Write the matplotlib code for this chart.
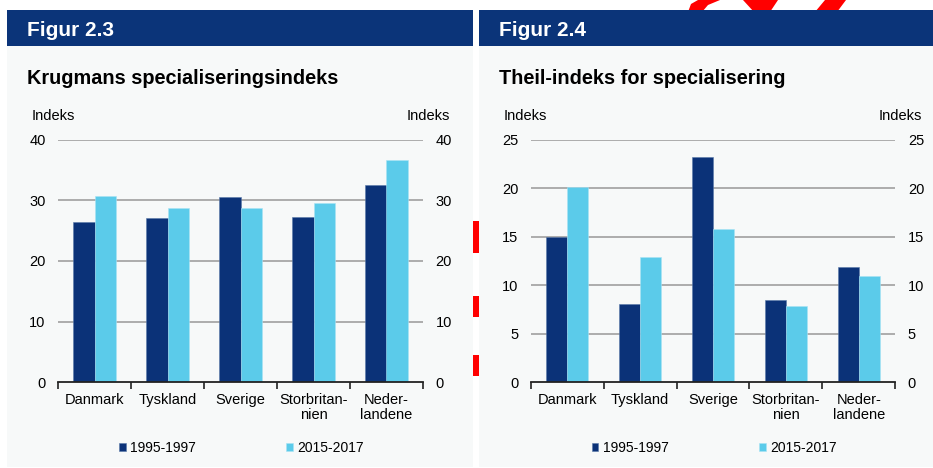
import matplotlib
matplotlib.use("Agg")
import matplotlib.pyplot as plt
import numpy as np
from matplotlib.patches import Rectangle, Polygon

plt.rcParams['font.family'] = ['Liberation Sans', 'DejaVu Sans']

# Data
countries = ["Danmark", "Tyskland", "Sverige", "Storbritan-\nnien", "Neder-\nlandene"]
periods = ["1995-1997", "2015-2017"]
krugman_9597 = [26.4, 27.1, 30.6, 27.2, 32.5]
krugman_1517 = [30.8, 28.7, 28.7, 29.6, 36.7]
theil_9597 = [15.0, 8.1, 23.2, 8.5, 11.9]
theil_1517 = [20.1, 12.9, 15.8, 7.9, 10.9]

DARK = "#0B3278"
LIGHT = "#5BCBEA"
HEADER = "#0B3479"
PANEL = "#F7F9F9"

W, H = 933, 468
fig = plt.figure(figsize=(W / 100, H / 100), dpi=100)
fig.patch.set_facecolor("white")


def px(x, y):
    # pixel position (from top-left) to figure fraction
    return x / W, 1 - y / H


def rect_px(x0, y0, x1, y1, **kw):
    fx0, fy1 = px(x0, y1)
    r = Rectangle((fx0, fy1), (x1 - x0) / W, (y1 - y0) / H,
                  transform=fig.transFigure, **kw)
    fig.patches.append(r)
    return r


def poly_px(points, **kw):
    p = Polygon([px(x, y) for x, y in points], closed=True,
                transform=fig.transFigure, **kw)
    fig.patches.append(p)


# red logo fragments showing behind the panels
for (x0, y0, x1, y1) in [(473, 221, 479, 253), (473, 296, 479, 317), (473, 355, 479, 376)]:
    rect_px(x0, y0, x1, y1, facecolor="red", edgecolor="none", zorder=-3)
poly_px([(688, 12), (691, 4), (698, 0), (720, 0), (708, 5), (702, 12)],
        facecolor="red", edgecolor="none", zorder=-3)
poly_px([(743, 0), (778, 0), (770, 12), (754, 12)],
        facecolor="red", edgecolor="none", zorder=-3)
poly_px([(825, 0), (846, 0), (837, 12), (815, 12)],
        facecolor="red", edgecolor="none", zorder=-3)

# panel backgrounds and header bands
panels = [(7, 473), (479, 933)]
for x0, x1 in panels:
    rect_px(x0, 10, x1, 467, facecolor=PANEL, edgecolor="none", zorder=-2)
    rect_px(x0, 10, x1, 46, facecolor=HEADER, edgecolor="none", zorder=-1)


def make_panel(x0, x1, ymax, step, v1, v2, fig_label, title, text_x):
    left, bottom = px(x0, 382)
    ax = fig.add_axes([left, bottom, (x1 - x0) / W, 242 / H])
    ax.set_facecolor("none")
    x = np.arange(len(countries))
    w = 0.29
    b1 = ax.bar(x - w / 2, v1, w, color=DARK, edgecolor="#5A79A8", linewidth=0.4, zorder=3, label=periods[0])
    b2 = ax.bar(x + w / 2, v2, w, color=LIGHT, edgecolor="#A9E3F4", linewidth=0.4, zorder=3, label=periods[1])
    ax.set_xlim(-0.5, len(countries) - 0.5)
    ax.set_ylim(0, ymax)
    ax.set_yticks(np.arange(0, ymax + 0.1, step))
    for yv in np.arange(step, ymax + 0.1, step):
        ax.axhline(yv, color="#A0A0A0", lw=1.2, zorder=1)
    for s in ["top", "left", "right"]:
        ax.spines[s].set_visible(False)
    ax.spines["bottom"].set_color("#222222")
    ax.spines["bottom"].set_linewidth(1.3)
    ax.spines["bottom"].set_zorder(4)
    ax.set_xticks(x)
    ax.set_xticklabels(countries, fontsize=10.5, linespacing=1.1)
    ax.set_xticks(np.arange(-0.5, len(countries), 1), minor=True)
    ax.tick_params(axis="x", which="major", length=0, pad=8)
    ax.tick_params(axis="x", which="minor", length=5, width=1.2, color="#222222", direction="out")
    ax.tick_params(axis="y", length=0, pad=9, labelsize=10.5, labelleft=True, labelright=True)

    fx, fy = px(text_x, 36)
    fig.text(fx, fy, fig_label, color="white", fontsize=15, fontweight="bold", va="baseline")
    fx, fy = px(text_x, 83.5)
    fig.text(fx, fy, title, color="black", fontsize=14.3, fontweight="bold", va="baseline")
    fx, fy = px(text_x + 5, 120.5)
    fig.text(fx, fy, "Indeks", fontsize=10.5, va="baseline")
    fx, fy = px(x1 + 27, 120.5)
    fig.text(fx, fy, "Indeks", fontsize=10.5, va="baseline", ha="right")

    lx, ly = px((x0 + x1) / 2 + 1, 448)
    ax.legend(handles=[b1, b2], loc="center", bbox_to_anchor=(lx, ly),
              bbox_transform=fig.transFigure, ncol=2, frameon=False,
              fontsize=10, handlelength=0.5, handleheight=0.5,
              handletextpad=0.3, columnspacing=6.5)
    return ax


make_panel(58, 423, 40, 10, krugman_9597, krugman_1517,
           "Figur 2.3", "Krugmans specialiseringsindeks", 27)
make_panel(530.7, 895.3, 25, 5, theil_9597, theil_1517,
           "Figur 2.4", "Theil-indeks for specialisering", 499)

fig.savefig("out.png", dpi=100, facecolor=fig.get_facecolor())
